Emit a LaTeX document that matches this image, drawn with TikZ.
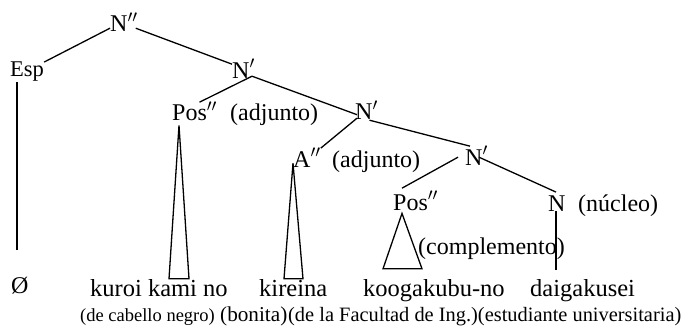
\documentclass[tikz,border=0pt]{standalone}
\usepackage{fontspec}
\setmainfont{Liberation Serif}
\begin{document}
\begin{tikzpicture}[x=1pt,y=-1pt,
  lbl/.style={inner sep=0pt, anchor=base west, font=\fontsize{24}{28}\selectfont},
  word/.style={inner sep=0pt, anchor=base west, font=\fontsize{24.5}{28}\selectfont},
  gloss/.style={inner sep=0pt, anchor=base west, font=\fontsize{18.5}{22}\selectfont},
  edge/.style={line width=1.3pt},
  tri/.style={line width=1.3pt}]
\useasboundingbox (0,0) rectangle (686,329);
% tree labels
\node[lbl] (Npp) at (110,32) {N$''$};
\node[lbl, font=\fontsize{22.5}{26}\selectfont] (Esp) at (10,77) {Esp};
\node[lbl] (N1) at (232,78) {N$'$};
\node[lbl] (Pos1) at (172,121) {Pos$''$};
\node[lbl] (adj1) at (230,121) {(adjunto)};
\node[lbl] (N2) at (355,120) {N$'$};
\node[lbl] (A) at (293,167) {A$''$};
\node[lbl] (adj2) at (332,167) {(adjunto)};
\node[lbl] (N3) at (465,165) {N$'$};
\node[lbl] (Pos2) at (393,210) {Pos$''$};
\node[lbl] (Nh) at (548,211) {N};
\node[lbl] (nuc) at (578,211) {(núcleo)};
\node[lbl] (comp) at (418,254) {(complemento)};
% words
\node[word, font=\fontsize{24}{28}\selectfont] (empty) at (11,293) {Ø};
\node[word] (kuroi) at (90,296) {kuroi kami no};
\node[word] (kireina) at (259,296) {kireina};
\node[word] (koog) at (363,296) {koogakubu-no};
\node[word] (daig) at (530,296) {daigakusei};
% glosses
\node[gloss] (g1) at (80,321) {(de cabello negro)};
\node[gloss, font=\fontsize{21.2}{24}\selectfont] (g2) at (220,321) {(bonita)};
\node[gloss, font=\fontsize{20.4}{24}\selectfont] (g3) at (288,321) {(de la Facultad de Ing.)(estudiante universitaria)};
% free ends
\coordinate (espend) at (17,250);
\coordinate (nend) at (556,270);
% connectors
\draw[edge] ([yshift=4pt]Npp.south west) -- (Esp.north east);
\draw[edge] ([yshift=4pt,xshift=-2pt]Npp.south east) -- ([yshift=-5pt]N1.north west);
\draw[edge] ([xshift=-3pt,yshift=2pt]N1.south east) -- ([xshift=5pt]Pos1.north);
\draw[edge] ([xshift=-3pt,yshift=2pt]N1.south east) -- ([xshift=2pt,yshift=-4pt]N2.west);
\draw[edge] ([xshift=2pt,yshift=2pt]N2.south west) -- (A.north east);
\draw[edge] ([xshift=3pt]N2.south) -- ([xshift=5pt]N3.north west);
\draw[edge] ([xshift=-7pt,yshift=8pt]N3.south west) -- ([xshift=9pt,yshift=3pt]Pos2.north west);
\draw[edge] ([xshift=14pt,yshift=8pt]N3.south west) -- ([xshift=8pt,yshift=3pt]Nh.north west);
\draw[edge] ([xshift=7pt]Esp.south west) -- (espend);
\draw[edge] ([xshift=8pt]Nh.south west) -- (nend);
% triangles
\draw[tri] ([xshift=7pt,yshift=-4pt]Pos1.south west) -- ([xshift=79pt]kuroi.north west) -- ([xshift=99pt]kuroi.north west) -- cycle;
\draw[tri] ([yshift=4pt]A.south west) -- ([xshift=25pt]kireina.north west) -- ([xshift=44pt]kireina.north west) -- cycle;
\draw[tri] ([xshift=9pt,yshift=-3pt]Pos2.south west) -- ([xshift=20pt,yshift=10pt]koog.north west) -- ([xshift=59pt,yshift=10pt]koog.north west) -- cycle;
\end{tikzpicture}
\end{document}
